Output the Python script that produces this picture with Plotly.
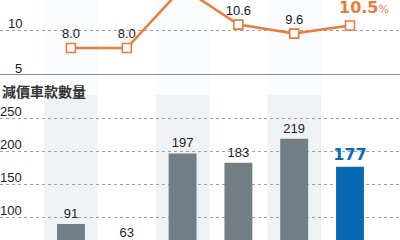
import plotly.graph_objects as go

# ---- data ----
x_idx = [0, 1, 2, 3, 4, 5]
pct_values = [8.0, 8.0, 14.7, 10.6, 9.6, 10.5]
pct_labels = ["8.0", "8.0", "14.7", "10.6", "9.6", "10.5"]
count_values = [91, 63, 197, 183, 219, 177]
count_labels = ["91", "63", "197", "183", "219", "<b>177</b>"]
top_ticks = [5, 10]
bottom_ticks = [50, 100, 150, 200, 250]
bottom_title = "減價車款數量"
shaded_idx = [0, 2, 4]

ORANGE = "#EC7A38"
GRAY_BAR = "#737D84"
BLUE = "#0A69B5"
FONT = "Liberation Sans"

H = 290  # figure taller than the 240px window; the bottom part falls outside the view
XR = [-1.272, 5.896]
TOP_DOM = [1 - 75 / H, 1.0]
BOT_DOM = [0.0, 1 - 78 / H]
Y1R = [5, 13.333]
Y2R = [-8.2, 310.3]

fig = go.Figure()

fig.add_trace(go.Scatter(
    x=x_idx, y=pct_values, xaxis="x", yaxis="y",
    mode="lines+markers+text",
    line=dict(color=ORANGE, width=2.5),
    marker=dict(symbol="square", size=9, color="white", line=dict(color=ORANGE, width=1.6)),
    text=pct_labels[:-1] + [""], textposition="top center",
    textfont=dict(family=FONT, size=13, color="#222"),
    cliponaxis=False, showlegend=False, hoverinfo="skip",
))

fig.add_trace(go.Bar(
    x=x_idx, y=count_values, xaxis="x2", yaxis="y2",
    width=0.5,
    marker=dict(color=[GRAY_BAR] * 5 + [BLUE], line=dict(width=0)),
    text=count_labels, textposition="outside", constraintext="none",
    textfont=dict(family=[FONT] * 5 + ["DejaVu Sans"], size=[13] * 5 + [16],
                  color=["#222"] * 5 + [BLUE]),
    cliponaxis=False, showlegend=False, hoverinfo="skip",
))

shapes = []
split = (H - 95) / H
for i in shaded_idx:
    shapes.append(dict(type="rect", xref="x", yref="paper", x0=i - 0.48, x1=i + 0.48,
                       y0=0, y1=split, fillcolor="#EFF2F5", line=dict(width=0), layer="below"))
    shapes.append(dict(type="rect", xref="x", yref="paper", x0=i - 0.48, x1=i + 0.48,
                       y0=split, y1=1, fillcolor="#FAFBFC", line=dict(width=0), layer="below"))
shapes.append(dict(type="line", xref="paper", yref="y", x0=0, x1=1, y0=top_ticks[0], y1=top_ticks[0],
                   line=dict(color="#8E8E8E", width=2)))

annotations = []
for t in top_ticks:
    annotations.append(dict(xref="paper", yref="y", x=0.06, y=t, text=str(t), showarrow=False,
                            xanchor="right", yanchor="middle", yshift=7,
                            font=dict(family=FONT, size=13, color="#222")))
for t in bottom_ticks:
    annotations.append(dict(xref="paper", yref="y2", x=0.06, y=t, text=str(t), showarrow=False,
                            xanchor="right", yanchor="middle", yshift=7,
                            font=dict(family=FONT, size=13, color="#222")))
annotations.append(dict(xref="paper", yref="paper", x=0.0, y=(H - 91) / H, text="<b>" + bottom_title + "</b>",
                        showarrow=False, xanchor="left", yanchor="middle",
                        font=dict(family="Noto Sans CJK TC", size=14, color="#333")))
# highlighted latest value label
annotations.append(dict(xref="x", yref="y", x=x_idx[-1], y=pct_values[-1],
                        text="<b>" + pct_labels[-1] + "</b><span style='font-size:11px'>%</span>",
                        showarrow=False, xanchor="center", yanchor="middle", xshift=14, yshift=18,
                        font=dict(family="DejaVu Sans", size=16, color=ORANGE)))

fig.update_layout(
    width=400, height=H, margin=dict(l=0, r=0, t=0, b=0),
    paper_bgcolor="white", plot_bgcolor="rgba(0,0,0,0)",
    font=dict(family=FONT, size=13, color="#222"),
    xaxis=dict(domain=[0, 1], range=XR, visible=False, anchor="y"),
    xaxis2=dict(domain=[0, 1], range=XR, visible=False, anchor="y2"),
    yaxis=dict(domain=TOP_DOM, range=Y1R, tickvals=[top_ticks[1]], showticklabels=False,
               showgrid=True, gridcolor="#A0A0A0", griddash="dot", gridwidth=1,
               zeroline=False, showline=False, ticks=""),
    yaxis2=dict(domain=BOT_DOM, range=Y2R, tickvals=bottom_ticks, showticklabels=False,
                showgrid=True, gridcolor="#A0A0A0", griddash="dot", gridwidth=1,
                zeroline=False, showline=False, ticks=""),
    shapes=shapes, annotations=annotations,
)

fig.write_html(
    "out.html",
    post_script="document.documentElement.style.overflow='hidden';document.body.style.overflow='hidden';",
)
